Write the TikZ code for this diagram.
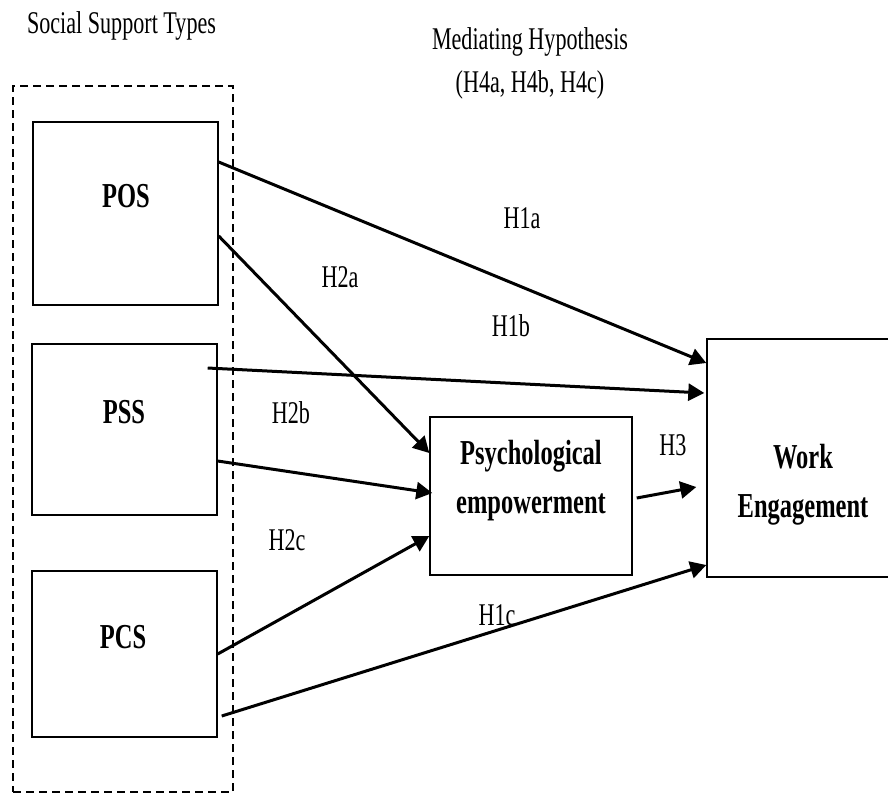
\documentclass[tikz,border=0pt]{standalone}
\usepackage{fontspec}
\setmainfont{Liberation Serif}[FakeStretch=0.70]
\usetikzlibrary{arrows.meta}

\begin{document}
\begin{tikzpicture}[x=0.5pt, y=-0.5pt,
    box/.style={rectangle, draw, line width=0.7pt, inner sep=0pt},
    supportbox/.style={rectangle, draw, dash pattern=on 4pt off 2.5pt, line width=0.6pt, inner sep=0pt},
    boxtext/.style={font=\fontsize{17.5}{24.5}\selectfont\bfseries, align=center, anchor=base, inner sep=0pt},
    hyp/.style={font=\fontsize{15.8}{21.5}\selectfont, align=center, anchor=base, inner sep=0pt},
    link/.style={-{Triangle[length=8pt, width=8.5pt]}, line width=1.5pt}
    ]
    \useasboundingbox (0,0) rectangle (888,794);

    % headings
    \node[hyp] (types) at (121.5,33) {Social Support Types};
    \node[hyp] (mediating) at (530,92) {Mediating Hypothesis\\(H4a, H4b, H4c)};

    % boxes
    \node[supportbox, minimum width=110pt, minimum height=353pt] (support) at (123,439) {};
    \node[box, minimum width=92.5pt, minimum height=91.5pt] (pos) at (125.5,213.5) {};
    \node[box, minimum width=92.5pt, minimum height=85.5pt] (pss) at (124.5,429.5) {};
    \node[box, minimum width=92.5pt, minimum height=83pt] (pcs) at (124.5,654) {};
    \node[box, minimum width=101pt, minimum height=79pt] (psy) at (531,496) {};
    \node[box, minimum width=96pt, minimum height=119pt] (we) at (803,458) {};

    \node[boxtext] (posT) at (126,207) {POS};
    \node[boxtext] (pssT) at (124,423) {PSS};
    \node[boxtext] (pcsT) at (123,648) {PCS};
    \node[boxtext] (psyT) at (531,513) {Psychological\\empowerment};
    \node[boxtext] (weT) at (803,517) {Work\\Engagement};

    % paths
    \draw[link] (pos.east |- 0,162) -- (we.west |- 0,363);
    \draw[link] (pos.east |- 0,236) -- (psy.west |- 0,453);
    \draw[link] ([xshift=-5pt]pss.east |- 0,368) -- ([xshift=-1pt]we.west |- 0,393);
    \draw[link] (pss.east |- 0,461) -- ([xshift=1.5pt]psy.west |- 0,493);
    \draw[link] (pcs.east |- 0,654) -- (psy.west |- 0,536);
    \draw[link] ([xshift=2pt]psy.east |- 0,498) -- ([xshift=-5pt]we.west |- 0,487);
    \draw[link] ([xshift=2pt]pcs.east |- 0,716) -- (we.west |- 0,565);

    % hypothesis labels
    \node[hyp] (h1a) at (522,228) {H1a};
    \node[hyp] (h2a) at (340,287) {H2a};
    \node[hyp] (h1b) at (511,336) {H1b};
    \node[hyp] (h2b) at (291,423) {H2b};
    \node[hyp] (h3) at (673,455) {H3};
    \node[hyp] (h2c) at (287,550) {H2c};
    \node[hyp] (h1c) at (497,625) {H1c};
\end{tikzpicture}
\end{document}
